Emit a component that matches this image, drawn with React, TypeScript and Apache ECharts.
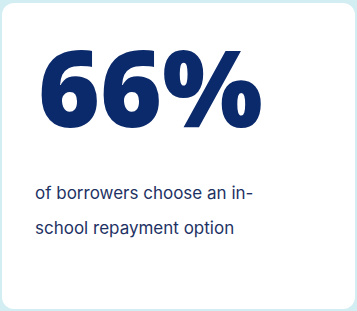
import React, { useEffect, useRef } from "react";
import * as echarts from "echarts";

const statValue = "66%";
const captionLines = ["of borrowers choose an in-", "school repayment option"];

export default function App() {
  const ref = useRef<HTMLDivElement>(null);
  useEffect(() => {
    const chart = echarts.init(ref.current!, null, { renderer: "svg" });
    chart.setOption({
      animation: false,
      backgroundColor: "#d3eef3",
      graphic: [
        {
          type: "rect",
          shape: { x: 2, y: 3, width: 353, height: 306, r: 12 },
          style: { fill: "#ffffff" },
        },
        {
          type: "text",
          x: 38,
          y: 33,
          style: {
            text: statValue,
            fill: "#0b2a6c",
            fontFamily: "Open Sans",
            fontWeight: 800,
            fontSize: 106,
            verticalAlign: "top",
          },
        },
        ...captionLines.map((t, i) => ({
          type: "text",
          x: 35,
          y: 184 + i * 35,
          style: {
            text: t,
            fill: "#1e3264",
            fontFamily: "Inter",
            fontSize: 17,
            verticalAlign: "top",
          },
        })),
      ],
    });
    return () => chart.dispose();
  }, []);
  return (
    <div
      ref={ref}
      style={{ position: "absolute", left: 0, top: 0, width: 357, height: 311 }}
    />
  );
}
